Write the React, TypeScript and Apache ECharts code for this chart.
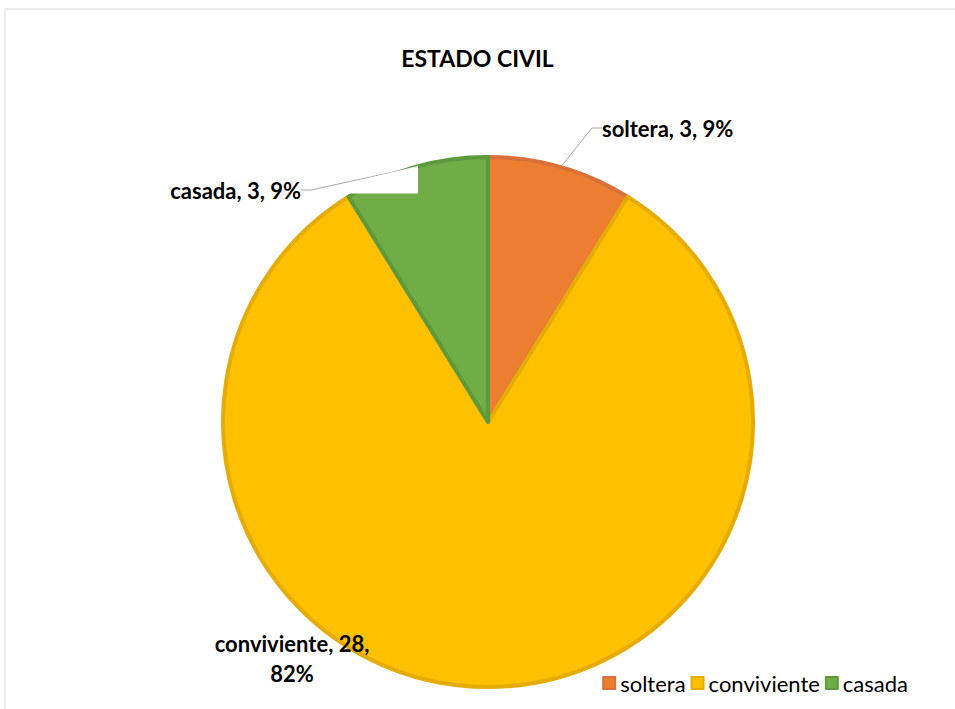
import React, { useEffect, useRef } from "react";
import * as echarts from "echarts";

const categories = ["soltera", "conviviente", "casada"];
const values = [3, 28, 3];
const colors = ["#ED7D31", "#FFC000", "#70AD47"];
const borderColors = ["#D9723A", "#E5AB06", "#5E9A3D"];

const FONT = "Lato, 'Open Sans', sans-serif";

export default function App() {
  const ref = useRef<HTMLDivElement>(null);
  useEffect(() => {
    if (!ref.current) return;
    const chart = echarts.init(ref.current, undefined, { renderer: "svg" });
    const labelPos: Record<string, any> = {
      soltera: { x: 602, y: 128, align: "left", verticalAlign: "middle" },
      casada: { x: 301, y: 190, align: "right", verticalAlign: "middle" },
      conviviente: { x: 292, y: 658, align: "center", verticalAlign: "middle" },
    };
    chart.setOption({
      animation: false,
      backgroundColor: "#fff",
      title: {
        text: "ESTADO CIVIL",
        left: "center",
        top: 41,
        textStyle: { fontFamily: FONT, fontSize: 23, fontWeight: "bold", color: "#000" },
      },
      legend: {
        data: categories,
        right: 42,
        bottom: 10,
        icon: "rect",
        itemWidth: 12,
        itemHeight: 12,
        itemGap: 5,
        itemTextGap: 5,
        textStyle: { fontFamily: FONT, fontSize: 22, color: "#000" },
      },
      graphic: [
        {
          type: "rect",
          shape: { x: 5, y: 9, width: 960, height: 720 },
          style: { fill: "none", stroke: "#ececec", lineWidth: 2 },
          silent: true,
        },
        {
          type: "polygon",
          shape: { points: [[302, 194], [418, 166], [418, 193.5], [302, 193.5]] },
          style: { fill: "#ffffff" },
          z: 10,
          silent: true,
        },
      ],
      series: [
        {
          type: "pie",
          center: [488, 422],
          radius: 265,
          startAngle: 90,
          clockwise: true,
          percentPrecision: 0,
          data: categories.map((name, i) => ({
            name,
            value: values[i],
            itemStyle: { color: colors[i], borderColor: borderColors[i], borderWidth: 4 },
            labelLine: { show: name !== "conviviente" },
          })),
          label: {
            show: true,
            fontFamily: FONT,
            fontSize: 22,
            fontWeight: "bold",
            color: "#000",
            lineHeight: 30,
            formatter: (p: any) =>
              p.name === "conviviente"
                ? `${p.name}, ${p.value},\n${p.percent}%`
                : `${p.name}, ${p.value}, ${p.percent}%`,
          },
          labelLine: {
            show: true,
            length: 20,
            length2: 10,
            lineStyle: { color: "#a6a6a6", width: 1 },
          },
          labelLayout: (params: any) => {
            const name = categories[params.dataIndex];
            return labelPos[name];
          },
          emphasis: { disabled: true },
        },
      ],
    });
    return () => chart.dispose();
  }, []);
  return (
    <div
      ref={ref}
      style={{ position: "fixed", left: 0, top: 0, width: 955, height: 709 }}
    />
  );
}
